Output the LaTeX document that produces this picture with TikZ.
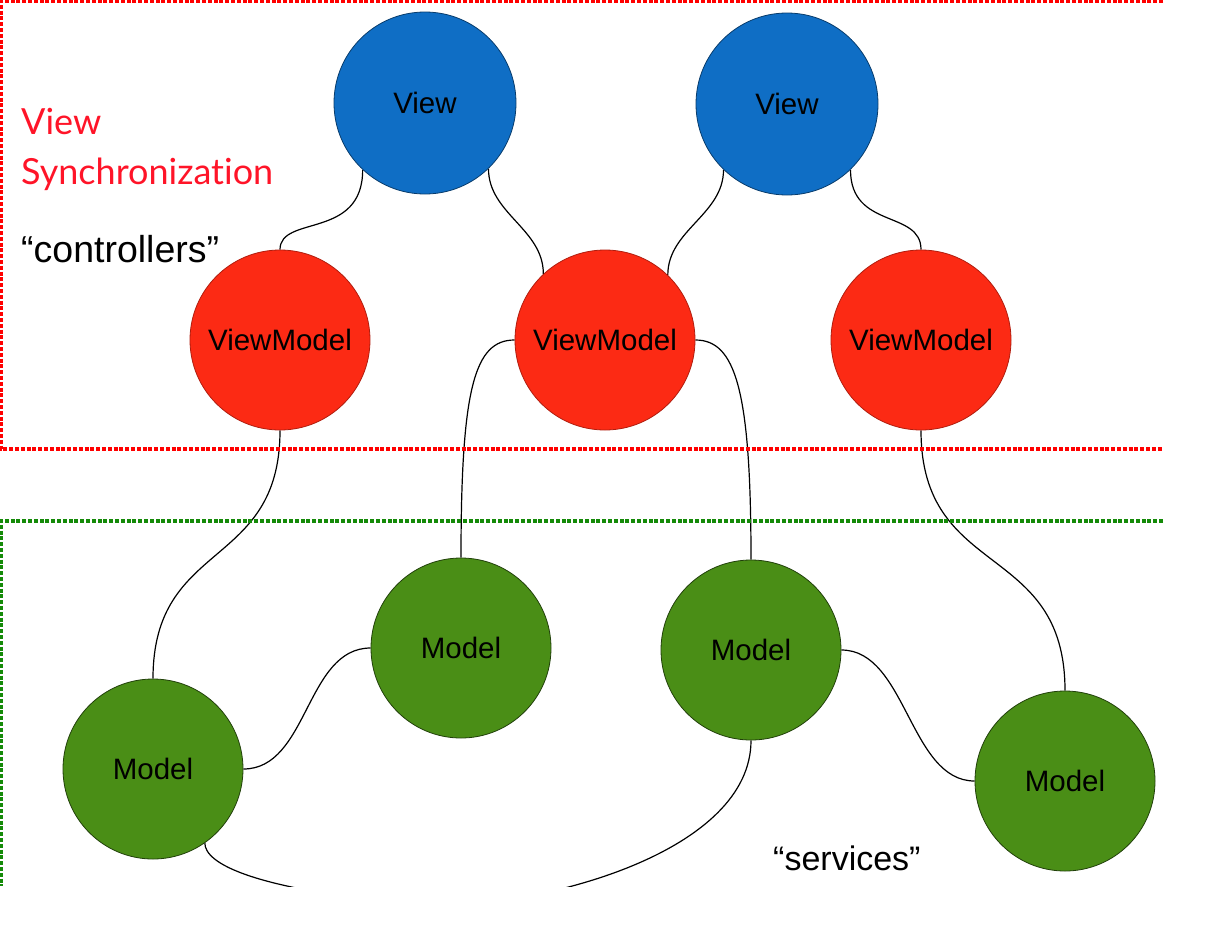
\documentclass[tikz,border=0pt]{standalone}
\usepackage{fontspec}
\setmainfont{Liberation Sans}
\newfontfamily\labfont[Ligatures=NoCommon]{Lato}
\usetikzlibrary{backgrounds}
\definecolor{vblue}{RGB}{15,110,197}
\definecolor{vred}{RGB}{252,42,20}
\definecolor{vgreen}{RGB}{74,142,22}
\definecolor{lred}{RGB}{255,20,40}
\definecolor{dred}{RGB}{255,0,0}
\definecolor{dgreen}{RGB}{20,138,8}
\begin{document}
\begin{tikzpicture}[x=1pt,y=-1pt,
  circ/.style={circle, minimum size=180pt, inner sep=0pt, line width=0.8pt,
    font=\fontsize{29.5}{31}\selectfont, text=black},
  viewc/.style={circ, fill=vblue, draw=vblue!55!black, minimum size=182pt},
  vmc/.style={circ, fill=vred, draw=vred!70!black},
  modc/.style={circ, fill=vgreen, draw=vgreen!45!black},
  conn/.style={draw=black, line width=1.2pt},
  redline/.style={draw=dred, line width=4.5pt, dash pattern=on 4pt off 1.8pt},
  greenline/.style={draw=dgreen, line width=4.5pt, dash pattern=on 4pt off 1.8pt},
  lbl/.style={anchor=base west, inner sep=0pt},
]
\useasboundingbox (0,0) rectangle (1210,935);

% region borders
\draw[redline] (1163,1) -- (1,1) -- (1,449) -- (1163,449);
\draw[greenline] (1163,521) -- (1,521) -- (1,886);

% labels
\node[lbl, text=lred, font=\labfont\fontsize{36}{38}\selectfont] (t1) at (21,134) {View};
\node[lbl, text=lred, font=\labfont\fontsize{36}{38}\selectfont] (t2) at (21,184) {Synchronization};
\node[lbl, font=\fontsize{37.5}{39}\selectfont] (t3) at (21,262) {“controllers”};
\node[lbl, font=\fontsize{34}{36}\selectfont] (t4) at (773,870) {“services”};

% nodes
\node[viewc] (v1) at (425,103) {View};
\node[viewc] (v2) at (787,104) {View};
\node[vmc] (vm1) at (280,340) {ViewModel};
\node[vmc] (vm2) at (605,340) {ViewModel};
\node[vmc] (vm3) at (921,340) {ViewModel};
\node[modc] (m1) at (153,769) {Model};
\node[modc] (m2) at (461,648) {Model};
\node[modc] (m3) at (751,650) {Model};
\node[modc] (m4) at (1065,781) {Model};
\coordinate (bot) at (430,906);

% connectors
\begin{scope}[on background layer]
\draw[conn] (v1.227) .. controls +(0,70) and +(0,-35) .. (vm1.north);
\draw[conn] (v1.-46) .. controls +(0,45) and +(0,-45) .. (vm2.133);
\draw[conn] (v2.226) .. controls +(0,45) and +(0,-45) .. (vm2.46);
\draw[conn] (v2.-46) .. controls +(0,60) and +(0,-40) .. (vm3.north);
\draw[conn] (vm2.west) .. controls +(-40,0) and +(0,-170) .. (m2.north);
\draw[conn] (vm2.east) .. controls +(40,0) and +(0,-170) .. (m3.north);
\draw[conn] (vm1.south) .. controls +(0,140) and +(0,-140) .. (m1.north);
\draw[conn] (vm3.south) .. controls +(0,150) and +(0,-150) .. (m4.north);
\draw[conn] (m1.east) .. controls +(65,0) and +(-65,0) .. (m2.west);
\draw[conn] (m3.east) .. controls +(65,0) and +(-65,0) .. (m4.west);
\begin{scope}
\clip (0,0) rectangle (1210,886);
\draw[conn] (m1.-55) .. controls +(0,20) and +(-180,-16) .. (bot)
  .. controls +(120,0) and +(0,110) .. (m3.south);
\end{scope}
\end{scope}
\end{tikzpicture}
\end{document}
